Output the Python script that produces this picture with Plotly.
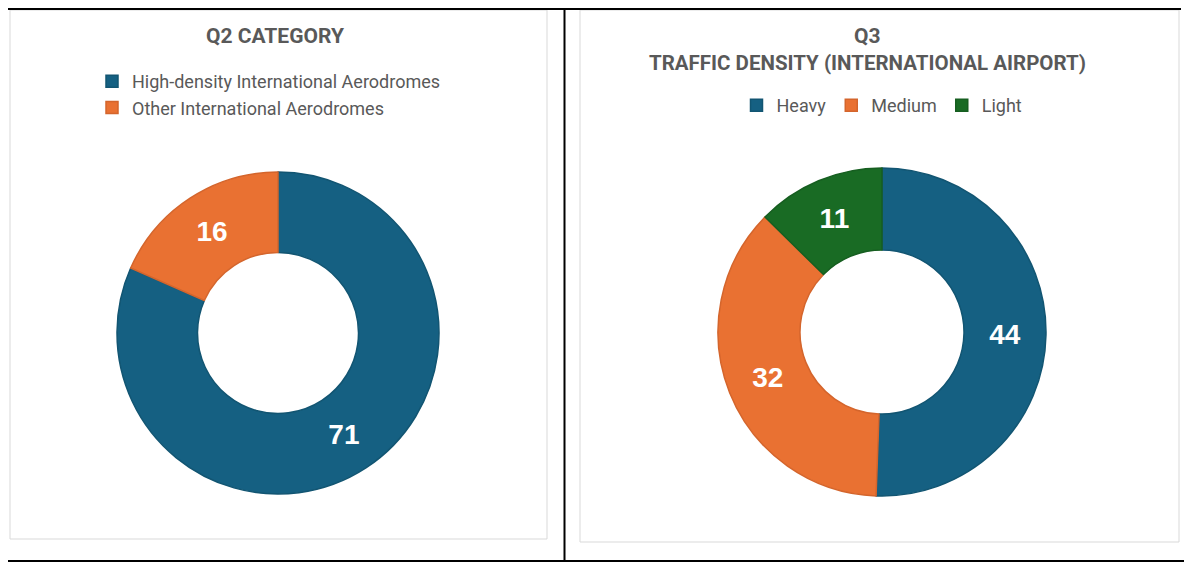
import plotly.graph_objects as go

# page body has an 8px default margin; the figure is sized and drawn to compensate
OFF = 8
W, H = 1192 - OFF, 563 - OFF

q2_labels = ["High-density International Aerodromes", "Other International Aerodromes"]
q2_values = [71, 16]
q2_colors = ["#156082", "#E97132"]
q2_lines = ["#125572", "#D4652C"]

q3_labels = ["Heavy", "Medium", "Light"]
q3_values = [44, 32, 11]
q3_colors = ["#156082", "#E97132", "#196B24"]
q3_lines = ["#125572", "#D4652C", "#165E20"]

TXT = "#595959"
NARROW = "Roboto, Arial, sans-serif"
BOLD = "Liberation Sans, Arial, sans-serif"


def px(x):
    return (x - OFF) / W


def py(y):
    return 1 - (y - OFF) / H


def dom(cx, cy, r):
    return dict(x=[px(cx - r), px(cx + r)], y=[py(cy + r), py(cy - r)])


fig = go.Figure()

fig.add_trace(go.Pie(
    labels=q2_labels, values=q2_values, hole=0.5, sort=False,
    direction="clockwise", rotation=0,
    marker=dict(colors=q2_colors, line=dict(color=q2_lines, width=1.5)),
    textinfo="value", textposition="inside", insidetextorientation="horizontal",
    textfont=dict(family=BOLD, size=28, color="white", weight="bold"),
    domain=dom(278, 333, 161), legend="legend", hoverinfo="label+value",
))

fig.add_trace(go.Pie(
    labels=q3_labels, values=q3_values, hole=0.5, sort=False,
    direction="clockwise", rotation=0,
    marker=dict(colors=q3_colors, line=dict(color=q3_lines, width=1.5)),
    textinfo="value", textposition="inside", insidetextorientation="horizontal",
    textfont=dict(family=BOLD, size=28, color="white", weight="bold"),
    domain=dom(882, 332, 164), legend="legend2", hoverinfo="label+value",
))

shapes = [
    # panels
    dict(type="rect", x0=px(10), x1=px(547), y0=py(539), y1=py(10),
         line=dict(color="#d9d9d9", width=1), fillcolor="rgba(0,0,0,0)", layer="below"),
    dict(type="rect", x0=px(580), x1=px(1179), y0=py(542), y1=py(10),
         line=dict(color="#d9d9d9", width=1), fillcolor="rgba(0,0,0,0)", layer="below"),
    # table lines
    dict(type="line", x0=px(OFF), x1=px(1181), y0=py(9), y1=py(9),
         line=dict(color="black", width=2)),
    dict(type="line", x0=px(OFF), x1=px(1192), y0=py(561), y1=py(561),
         line=dict(color="black", width=2)),
    dict(type="line", x0=px(564.5), x1=px(564.5), y0=py(9), y1=py(561),
         line=dict(color="black", width=2)),
]

annotations = [
    dict(text="<b>Q2 CATEGORY</b>", x=px(275), y=py(36), xref="paper", yref="paper",
         showarrow=False, xanchor="center", yanchor="middle",
         font=dict(family=NARROW, size=21, color=TXT)),
    dict(text="<b>Q3</b>", x=px(867), y=py(36), xref="paper", yref="paper",
         showarrow=False, xanchor="center", yanchor="middle",
         font=dict(family=NARROW, size=21, color=TXT)),
    dict(text="<b>TRAFFIC DENSITY (INTERNATIONAL AIRPORT)</b>", x=px(867), y=py(63),
         xref="paper", yref="paper", showarrow=False, xanchor="center", yanchor="middle",
         font=dict(family=NARROW, size=20.5, color=TXT)),
]

fig.update_layout(
    width=W, height=H, margin=dict(l=0, r=0, t=0, b=0),
    paper_bgcolor="white", plot_bgcolor="white",
    shapes=shapes, annotations=annotations,
    legend=dict(orientation="v", x=px(92), y=py(63), xanchor="left", yanchor="top",
                font=dict(family=NARROW, size=18, color=TXT), bgcolor="rgba(0,0,0,0)",
                itemclick=False, itemdoubleclick=False),
    legend2=dict(orientation="h", x=px(882), y=py(87), xanchor="center", yanchor="top",
                 font=dict(family=NARROW, size=18, color=TXT), bgcolor="rgba(0,0,0,0)",
                 itemclick=False, itemdoubleclick=False),
    showlegend=True,
)

fig.write_html("out.html")
